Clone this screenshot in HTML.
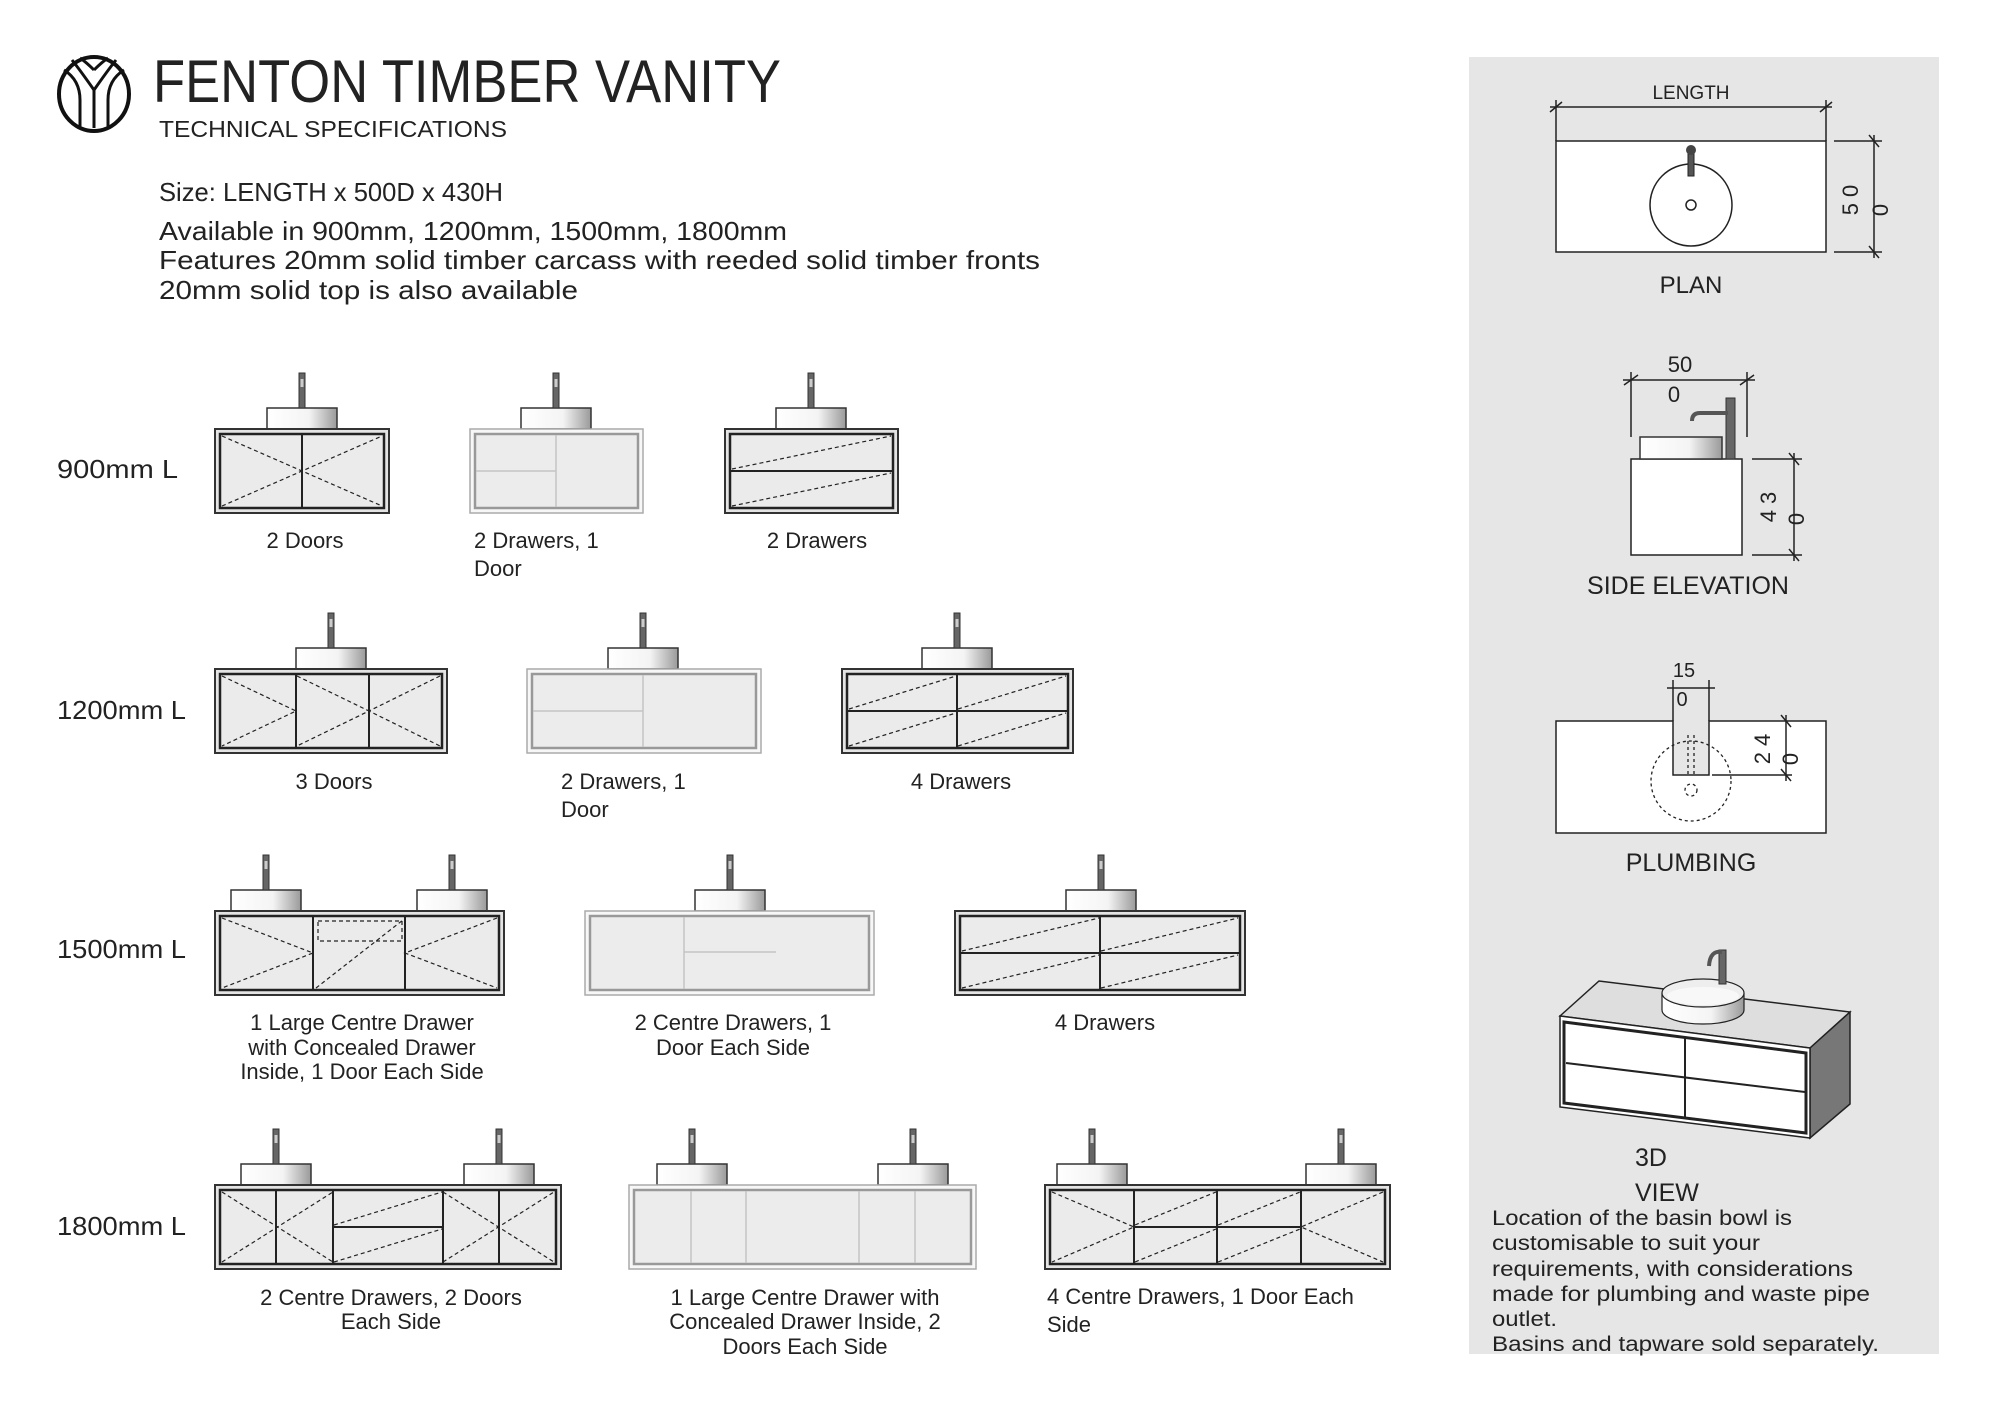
<!DOCTYPE html>
<html><head><meta charset="utf-8"><style>
html,body{margin:0;padding:0;background:#fff}
svg{display:block}
text{font-family:"Liberation Sans",sans-serif;fill:#222}
</style></head><body>
<svg width="2000" height="1414" viewBox="0 0 2000 1414" xmlns="http://www.w3.org/2000/svg">
<defs>
<linearGradient id="bg" x1="0" x2="1" y1="0" y2="0"><stop offset="0" stop-color="#fff"/><stop offset="0.6" stop-color="#f4f4f4"/><stop offset="1" stop-color="#9a9a9a"/></linearGradient>
<g id="bt">
<rect x="-35" y="-21" width="70" height="21" fill="url(#bg)" stroke="#333" stroke-width="1.5"/>
<rect x="-3" y="-56" width="6" height="35" fill="#666" stroke="#333" stroke-width="1"/>
<rect x="-1.5" y="-50" width="3" height="8" fill="#ccc"/>
</g>
</defs>
<rect width="2000" height="1414" fill="#fff"/>

<!-- Logo -->
<g fill="none" stroke="#111" stroke-width="4">
<ellipse cx="94" cy="94" rx="35" ry="37"/>
<path d="M94 128 V90 M80 128 V100 Q80 80 64 70 M108 128 V100 Q108 80 124 70 M94 90 Q80 70 72 60 M94 90 Q108 70 116 60 M94 70 Q86 62 80 58 M94 70 Q102 62 108 58" stroke-width="3"/>
</g>

<!-- Header text -->
<text x="153" y="102" font-size="60" textLength="628" lengthAdjust="spacingAndGlyphs">FENTON TIMBER VANITY</text>
<text x="159" y="137" font-size="23" textLength="348" lengthAdjust="spacingAndGlyphs">TECHNICAL SPECIFICATIONS</text>
<text x="159" y="201" font-size="26" textLength="344" lengthAdjust="spacingAndGlyphs">Size: LENGTH x 500D x 430H</text>
<text x="159" y="240" font-size="26" textLength="628" lengthAdjust="spacingAndGlyphs">Available in 900mm, 1200mm, 1500mm, 1800mm</text>
<text x="159" y="269" font-size="26" textLength="881" lengthAdjust="spacingAndGlyphs">Features 20mm solid timber carcass with reeded solid timber fronts</text>
<text x="159" y="299" font-size="26" textLength="419" lengthAdjust="spacingAndGlyphs">20mm solid top is also available</text>

<!-- Row labels -->
<g font-size="26">
<text x="57" y="478" textLength="121" lengthAdjust="spacingAndGlyphs">900mm L</text>
<text x="57" y="719" textLength="129" lengthAdjust="spacingAndGlyphs">1200mm L</text>
<text x="57" y="958" textLength="129" lengthAdjust="spacingAndGlyphs">1500mm L</text>
<text x="57" y="1235" textLength="129" lengthAdjust="spacingAndGlyphs">1800mm L</text>
</g>

<!-- Basins/taps -->
<use href="#bt" x="302" y="429"/><use href="#bt" x="556" y="429"/><use href="#bt" x="811" y="429"/>
<use href="#bt" x="331" y="669"/><use href="#bt" x="643" y="669"/><use href="#bt" x="957" y="669"/>
<use href="#bt" x="266" y="911"/><use href="#bt" x="452" y="911"/><use href="#bt" x="730" y="911"/><use href="#bt" x="1101" y="911"/>
<use href="#bt" x="276" y="1185"/><use href="#bt" x="499" y="1185"/><use href="#bt" x="692" y="1185"/><use href="#bt" x="913" y="1185"/><use href="#bt" x="1092" y="1185"/><use href="#bt" x="1341" y="1185"/>

<!-- Dark cabinets frames -->
<g stroke="#333" fill="#e4e4e4" stroke-width="2">
<rect x="215" y="429" width="174" height="84"/>
<rect x="725" y="429" width="173" height="84"/>
<rect x="215" y="669" width="232" height="84"/>
<rect x="842" y="669" width="231" height="84"/>
<rect x="215" y="911" width="289" height="84"/>
<rect x="955" y="911" width="290" height="84"/>
<rect x="215" y="1185" width="346" height="84"/>
<rect x="1045" y="1185" width="345" height="84"/>
</g>
<g stroke="#222" fill="#ebebeb" stroke-width="2.5">
<rect x="220" y="434" width="164" height="74"/>
<rect x="730" y="434" width="163" height="74"/>
<rect x="220" y="674" width="222" height="74"/>
<rect x="847" y="674" width="221" height="74"/>
<rect x="220" y="916" width="279" height="74"/>
<rect x="960" y="916" width="280" height="74"/>
<rect x="220" y="1190" width="336" height="74"/>
<rect x="1050" y="1190" width="335" height="74"/>
</g>

<!-- Light cabinets -->
<g stroke="#aaa" fill="#f7f7f7" stroke-width="1.5">
<rect x="470" y="429" width="173" height="84"/>
<rect x="527" y="669" width="234" height="84"/>
<rect x="585" y="911" width="289" height="84"/>
<rect x="629" y="1185" width="347" height="84"/>
</g>
<g stroke="#999" fill="#ececec" stroke-width="2.5">
<rect x="475" y="434" width="163" height="74"/>
<rect x="532" y="674" width="224" height="74"/>
<rect x="590" y="916" width="279" height="74"/>
<rect x="634" y="1190" width="337" height="74"/>
</g>
<g stroke="#c4c4c4" stroke-width="1.5">
<line x1="556" y1="435" x2="556" y2="507"/><line x1="476" y1="471" x2="556" y2="471"/>
<line x1="643" y1="675" x2="643" y2="747"/><line x1="533" y1="711" x2="643" y2="711"/>
<line x1="684" y1="917" x2="684" y2="989"/><line x1="684" y1="952" x2="776" y2="952"/>
<line x1="691" y1="1191" x2="691" y2="1263"/><line x1="746" y1="1191" x2="746" y2="1263"/><line x1="859" y1="1191" x2="859" y2="1263"/><line x1="915" y1="1191" x2="915" y2="1263"/>
</g>

<!-- Dark dividers -->
<g stroke="#222" stroke-width="2">
<line x1="302" y1="435" x2="302" y2="507"/>
<line x1="731" y1="471" x2="892" y2="471"/>
<line x1="296" y1="675" x2="296" y2="747"/><line x1="369" y1="675" x2="369" y2="747"/>
<line x1="957" y1="675" x2="957" y2="747"/><line x1="848" y1="711" x2="1067" y2="711"/>
<line x1="313" y1="917" x2="313" y2="989"/><line x1="405" y1="917" x2="405" y2="989"/>
<line x1="1100" y1="917" x2="1100" y2="989"/><line x1="961" y1="953" x2="1239" y2="953"/>
<line x1="276" y1="1191" x2="276" y2="1263"/><line x1="333" y1="1191" x2="333" y2="1263"/><line x1="443" y1="1191" x2="443" y2="1263"/><line x1="499" y1="1191" x2="499" y2="1263"/><line x1="333" y1="1227" x2="443" y2="1227"/>
<line x1="1134" y1="1191" x2="1134" y2="1263"/><line x1="1217" y1="1191" x2="1217" y2="1263"/><line x1="1301" y1="1191" x2="1301" y2="1263"/><line x1="1134" y1="1227" x2="1301" y2="1227"/>
</g>

<!-- Dashed swing lines -->
<g stroke="#222" stroke-width="1.2" stroke-dasharray="4 3" fill="none">
<path d="M222 436 L382 506 M222 506 L382 436"/>
<path d="M732 469 L891 436 M732 506 L891 473"/>
<path d="M222 676 L296 711 L222 746 M297 676 L369 711 L297 746 M440 676 L369 711 L440 746"/>
<path d="M849 709 L956 676 M958 709 L1066 676 M849 746 L956 713 M958 746 L1066 713"/>
<path d="M222 918 L313 953 L222 988 M497 918 L405 953 L497 988 M316 988 L403 920"/>
<rect x="318" y="921" width="84" height="20"/>
<path d="M962 951 L1099 918 M1101 951 L1238 918 M962 988 L1099 955 M1101 988 L1238 955"/>
<path d="M222 1192 L333 1262 M222 1262 L333 1192 M443 1192 L554 1262 M443 1262 L554 1192"/>
<path d="M334 1225 L442 1192 M334 1262 L442 1229"/>
<path d="M1052 1192 L1134 1227 L1052 1262 M1383 1192 L1301 1227 L1383 1262"/>
<path d="M1135 1225 L1216 1192 M1218 1225 L1300 1192 M1135 1262 L1216 1229 M1218 1262 L1300 1229"/>
</g>

<!-- Cabinet labels -->
<g font-size="22">
<text x="305" y="548" text-anchor="middle">2 Doors</text>
<text x="474" y="548">2 Drawers, 1</text><text x="474" y="576">Door</text>
<text x="817" y="548" text-anchor="middle">2 Drawers</text>
<text x="334" y="789" text-anchor="middle">3 Doors</text>
<text x="561" y="789">2 Drawers, 1</text><text x="561" y="817">Door</text>
<text x="961" y="789" text-anchor="middle">4 Drawers</text>
<text x="362" y="1030" text-anchor="middle">1 Large Centre Drawer</text>
<text x="362" y="1055" text-anchor="middle">with Concealed Drawer</text>
<text x="362" y="1079" text-anchor="middle">Inside, 1 Door Each Side</text>
<text x="733" y="1030" text-anchor="middle">2 Centre Drawers, 1</text>
<text x="733" y="1055" text-anchor="middle">Door Each Side</text>
<text x="1105" y="1030" text-anchor="middle">4 Drawers</text>
<text x="391" y="1305" text-anchor="middle">2 Centre Drawers, 2 Doors</text>
<text x="391" y="1329" text-anchor="middle">Each Side</text>
<text x="805" y="1305" text-anchor="middle">1 Large Centre Drawer with</text>
<text x="805" y="1329" text-anchor="middle">Concealed Drawer Inside, 2</text>
<text x="805" y="1354" text-anchor="middle">Doors Each Side</text>
<text x="1047" y="1304">4 Centre Drawers, 1 Door Each</text>
<text x="1047" y="1332">Side</text>
</g>

<!-- Right panel -->
<rect x="1469" y="57" width="470" height="1297" fill="#e6e6e6"/>

<!-- PLAN -->
<g stroke="#222" stroke-width="1.5" fill="none">
<rect x="1556" y="141" width="270" height="111" fill="#fff"/>
<line x1="1550" y1="107" x2="1832" y2="107"/>
<line x1="1556" y1="100" x2="1556" y2="141"/><line x1="1826" y1="100" x2="1826" y2="141"/>
<line x1="1550" y1="112" x2="1562" y2="102"/><line x1="1820" y1="112" x2="1832" y2="102"/>
<line x1="1874" y1="135" x2="1874" y2="258"/>
<line x1="1834" y1="141" x2="1882" y2="141"/><line x1="1834" y1="252" x2="1882" y2="252"/>
<line x1="1869" y1="135" x2="1879" y2="147"/><line x1="1869" y1="246" x2="1879" y2="258"/>
<circle cx="1691" cy="205" r="41" fill="#fff"/>
<circle cx="1691" cy="205" r="5"/>
</g>
<rect x="1688" y="148" width="6" height="28" fill="#555" stroke="#222"/>
<circle cx="1691" cy="150" r="5" fill="#444"/>
<text x="1691" y="99" font-size="19" text-anchor="middle">LENGTH</text>
<text x="1691" y="293" font-size="24" text-anchor="middle">PLAN</text>
<text transform="translate(1858,200) rotate(-90)" font-size="22" text-anchor="middle">5 0</text>
<text transform="translate(1888,210) rotate(-90)" font-size="22" text-anchor="middle">0</text>

<!-- SIDE ELEVATION -->
<g stroke="#222" stroke-width="1.5" fill="none">
<rect x="1631" y="459" width="111" height="96" fill="#fff"/>
<line x1="1623" y1="380" x2="1755" y2="380"/>
<line x1="1631" y1="372" x2="1631" y2="437"/><line x1="1747" y1="372" x2="1747" y2="437"/>
<line x1="1624" y1="385" x2="1638" y2="375"/><line x1="1740" y1="385" x2="1754" y2="375"/>
<line x1="1794" y1="453" x2="1794" y2="561"/>
<line x1="1752" y1="459" x2="1802" y2="459"/><line x1="1752" y1="555" x2="1802" y2="555"/>
<line x1="1789" y1="453" x2="1799" y2="465"/><line x1="1789" y1="549" x2="1799" y2="561"/>
</g>
<rect x="1640" y="437" width="82" height="22" fill="url(#bg)" stroke="#333" stroke-width="1.5"/>
<rect x="1726" y="398" width="9" height="61" fill="#666" stroke="#333"/>
<path d="M1728 413 L1700 413 Q1692 413 1692 421" stroke="#555" stroke-width="4" fill="none"/>
<text x="1680" y="372" font-size="22" text-anchor="middle">50</text>
<text x="1674" y="402" font-size="22" text-anchor="middle">0</text>
<text transform="translate(1776,507) rotate(-90)" font-size="22" text-anchor="middle">4 3</text>
<text transform="translate(1804,519) rotate(-90)" font-size="22" text-anchor="middle">0</text>
<text x="1688" y="594" font-size="25" text-anchor="middle">SIDE ELEVATION</text>

<!-- PLUMBING -->
<path d="M1556 721 H1673 V775 H1709 V721 H1826 V833 H1556 Z" fill="#fff" stroke="#222" stroke-width="1.5"/>
<g stroke="#222" stroke-width="1.3" fill="none" stroke-dasharray="3 3">
<circle cx="1691" cy="781" r="40"/>
<line x1="1688" y1="735" x2="1688" y2="775"/><line x1="1694" y1="735" x2="1694" y2="775"/>
<circle cx="1691" cy="790" r="6"/>
</g>
<g stroke="#222" stroke-width="1.5">
<line x1="1667" y1="688" x2="1715" y2="688"/>
<line x1="1673" y1="680" x2="1673" y2="721"/><line x1="1709" y1="680" x2="1709" y2="721"/>
<line x1="1786" y1="715" x2="1786" y2="781"/>
<line x1="1712" y1="775" x2="1792" y2="775"/>
<line x1="1781" y1="715" x2="1791" y2="727"/><line x1="1781" y1="769" x2="1791" y2="781"/>
</g>
<text x="1684" y="677" font-size="20" text-anchor="middle">15</text>
<text x="1682" y="706" font-size="20" text-anchor="middle">0</text>
<text transform="translate(1770,749) rotate(-90)" font-size="22" text-anchor="middle">2 4</text>
<text transform="translate(1798,759) rotate(-90)" font-size="22" text-anchor="middle">0</text>
<text x="1691" y="871" font-size="25" text-anchor="middle">PLUMBING</text>

<!-- 3D VIEW -->
<polygon points="1560,1016 1599,981 1850,1012 1810,1048" fill="#dedede" stroke="#222" stroke-width="1.5"/>
<polygon points="1810,1048 1850,1012 1850,1104 1810,1138" fill="#777" stroke="#222" stroke-width="1.5"/>
<polygon points="1560,1016 1810,1048 1810,1138 1560,1107" fill="#fff" stroke="#222" stroke-width="1.5"/>
<polygon points="1564,1022 1806,1053 1806,1133 1564,1103" fill="#fff" stroke="#222" stroke-width="3"/>
<g stroke="#222" stroke-width="2">
<line x1="1685" y1="1038" x2="1685" y2="1118"/>
<line x1="1566" y1="1063" x2="1805" y2="1092"/>
</g>
<path d="M1662 993 V1010 A41 14 0 0 0 1744 1010 V993" fill="url(#bg)" stroke="#222" stroke-width="1.2"/>
<ellipse cx="1703" cy="993" rx="41" ry="14" fill="#eee" stroke="#222" stroke-width="1.2"/>
<ellipse cx="1703" cy="996" rx="36" ry="9" fill="#f8f8f8"/>
<rect x="1719" y="950" width="7" height="34" fill="#666" stroke="#333"/>
<path d="M1722 952 Q1710 950 1709 966" stroke="#555" stroke-width="4" fill="none"/>
<text x="1635" y="1166" font-size="25">3D</text>
<text x="1635" y="1201" font-size="25">VIEW</text>
<g font-size="21">
<text x="1492" y="1225" textLength="300" lengthAdjust="spacingAndGlyphs">Location of the basin bowl is</text>
<text x="1492" y="1250" textLength="268" lengthAdjust="spacingAndGlyphs">customisable to suit your</text>
<text x="1492" y="1276" textLength="361" lengthAdjust="spacingAndGlyphs">requirements, with considerations</text>
<text x="1492" y="1301" textLength="378" lengthAdjust="spacingAndGlyphs">made for plumbing and waste pipe</text>
<text x="1492" y="1326" textLength="65" lengthAdjust="spacingAndGlyphs">outlet.</text>
<text x="1492" y="1351" textLength="387" lengthAdjust="spacingAndGlyphs">Basins and tapware sold separately.</text>
</g>
</svg>
</body></html>
